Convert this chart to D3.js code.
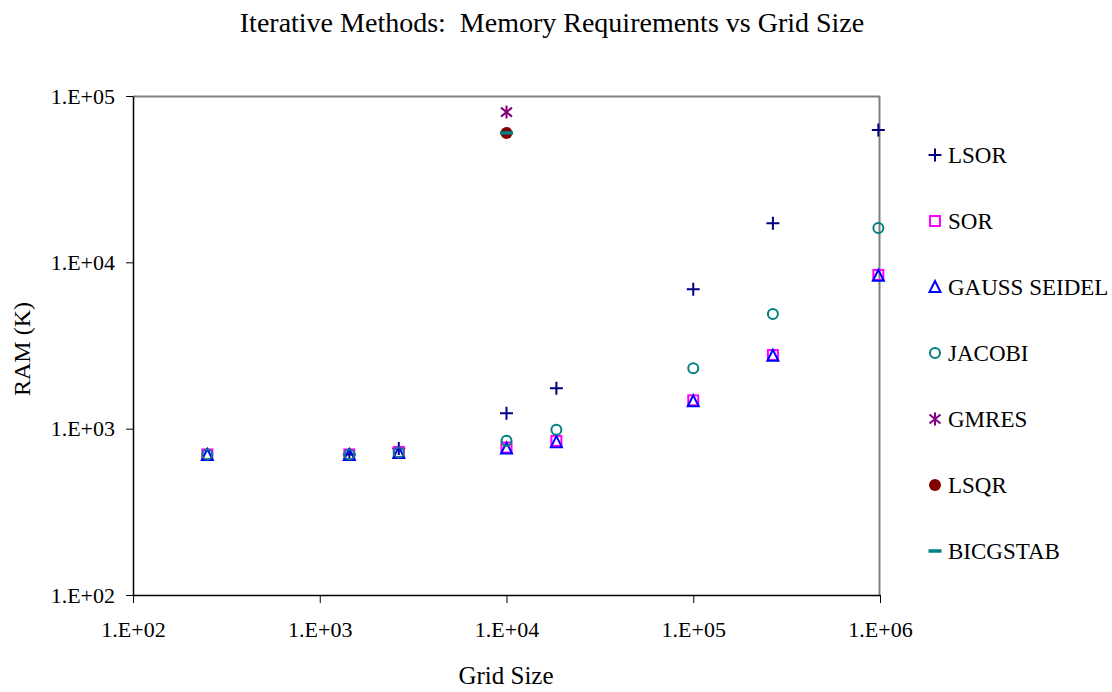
<!DOCTYPE html>
<html>
<head>
<meta charset="utf-8">
<script src="https://cdn.jsdelivr.net/npm/d3@7"></script>
<style>
body { margin: 0; background: #fff; }
svg text { font-family: "Liberation Serif", "Times New Roman", serif; fill: #000; }
</style>
</head>
<body>
<div id="chart"></div>
<script>
var WIDTH = 1112;
var HEIGHT = 692;
var FONT = '"Liberation Serif", "Times New Roman", serif';

// data
var gridSizes = [250, 1440, 2650, 10000, 18500, 100000, 267000, 980000];
var lsor     = [null, 700, 760, 1240, 1750, 6900, 17200, 62500];
var sor      = [700, 700, 725, 770, 845, 1480, 2770, 8400];
var gauss    = [695, 695, 715, 760, 830, 1460, 2740, 8300];
var jacobi   = [700, 700, 720, 845, 985, 2310, 4890, 16100];
var gmres    = [null, null, null, 80000, null, null, null, null];
var lsqr     = [null, null, null, 60000, null, null, null, null];
var bicgstab = [null, null, null, 60000, null, null, null, null];

var xTicks = [1e2, 1e3, 1e4, 1e5, 1e6];
var yTicks = [1e2, 1e3, 1e4, 1e5];

var series = [
	{name: "LSOR", values: lsor, colour: "#000080", shape: "plus"},
	{name: "SOR", values: sor, colour: "#ff00ff", shape: "square"},
	{name: "GAUSS SEIDEL", values: gauss, colour: "#0000ff", shape: "triangle"},
	{name: "JACOBI", values: jacobi, colour: "#008080", shape: "circle"},
	{name: "GMRES", values: gmres, colour: "#800080", shape: "star"},
	{name: "LSQR", values: lsqr, colour: "#800000", shape: "dot"},
	{name: "BICGSTAB", values: bicgstab, colour: "#008080", shape: "dash"}
];

var margin = {left: 133, top: 96, right: 1112 - 880, bottom: 692 - 595};
var w = WIDTH - margin.left - margin.right;
var h = HEIGHT - margin.top - margin.bottom;

var svg = d3.select('#chart').append('svg')
	.attr('width', WIDTH).attr('height', HEIGHT);

var x = d3.scaleLog().domain([1e2, 1e6]).range([0, w]);
var y = d3.scaleLog().domain([1e2, 1e5]).range([h, 0]);

var fmt = function(d) { return "1.E+" + String(Math.round(Math.log10(d))).padStart(2, "0"); };

// title and axis titles
svg.append('text').attr('x', 552).attr('y', 32).attr('text-anchor', 'middle')
	.style('font-family', FONT).style('font-size', '28px').style('white-space', 'pre')
	.text("Iterative Methods:  Memory Requirements vs Grid Size");
svg.append('text').attr('x', 506).attr('y', 684).attr('text-anchor', 'middle')
	.style('font-family', FONT).style('font-size', '25px').text("Grid Size");
svg.append('text').attr('transform', 'translate(30,' + 349 + ') rotate(-90)')
	.attr('text-anchor', 'middle').style('font-family', FONT).style('font-size', '24px').text("RAM (K)");

var plot = svg.append('g').attr('transform', 'translate(' + margin.left + ',' + margin.top + ')');

// frame: grey top and right edges
plot.append('line').attr('x1', 0).attr('x2', w).attr('y1', 0.5).attr('y2', 0.5)
	.attr('stroke', '#808080').attr('stroke-width', 2);
plot.append('line').attr('x1', w - 0.5).attr('x2', w - 0.5).attr('y1', 0).attr('y2', h)
	.attr('stroke', '#808080').attr('stroke-width', 2);

var xAxis = plot.append('g').attr('transform', 'translate(0,' + h + ')')
	.call(d3.axisBottom(x).tickValues(xTicks).tickFormat(fmt).tickSize(8).tickSizeOuter(0).tickPadding(18));
var yAxis = plot.append('g')
	.call(d3.axisLeft(y).tickValues(yTicks).tickFormat(fmt).tickSize(7).tickSizeOuter(0).tickPadding(11));
[xAxis, yAxis].forEach(function(a) {
	a.attr('font-family', FONT);
	a.selectAll('path').attr('stroke', '#000').attr('stroke-width', 1.5);
	a.selectAll('.tick line').attr('stroke', '#000').attr('stroke-width', 1);
	a.selectAll('text').style('font-family', FONT).style('font-size', '22px');
});

function drawMarker(g, shape, colour) {
	if(shape == 'plus') {
		g.append('path').attr('d', 'M-6.5,0H6.5M0,-6.5V6.5').attr('stroke', colour).attr('stroke-width', 2).attr('fill', 'none');
	} else if(shape == 'square') {
		g.append('rect').attr('x', -5).attr('y', -5).attr('width', 10).attr('height', 10)
			.attr('fill', 'none').attr('stroke', colour).attr('stroke-width', 2);
	} else if(shape == 'triangle') {
		g.append('path').attr('d', 'M0,-6L5.5,5H-5.5Z').attr('fill', 'none')
			.attr('stroke', colour).attr('stroke-width', 2);
	} else if(shape == 'circle') {
		g.append('circle').attr('r', 5).attr('fill', 'none').attr('stroke', colour).attr('stroke-width', 2);
	} else if(shape == 'star') {
		g.append('path').attr('d', 'M0,-6.5V6.5M-5.5,-4.5L5.5,4.5M-5.5,4.5L5.5,-4.5').attr('stroke', colour)
			.attr('stroke-width', 2).attr('fill', 'none');
	} else if(shape == 'dot') {
		g.append('circle').attr('r', 6).attr('fill', colour);
	} else if(shape == 'dash') {
		g.append('path').attr('d', 'M-6.5,0H6.5').attr('stroke', colour).attr('stroke-width', 3.5);
	}
}

series.forEach(function(s) {
	var pts = gridSizes.map(function(g, i) { return {x: g, y: s.values[i]}; })
		.filter(function(d) { return d.y != null; });
	plot.selectAll(null).data(pts).enter().append('g')
		.attr('transform', function(d) { return 'translate(' + x(d.x) + ',' + y(d.y) + ')'; })
		.each(function() { drawMarker(d3.select(this), s.shape, s.colour); });
});

// legend
var legend = svg.append('g').attr('transform', 'translate(935,155)');
series.forEach(function(s, i) {
	var item = legend.append('g').attr('transform', 'translate(0,' + (i * 66) + ')');
	drawMarker(item, s.shape, s.colour);
	item.append('text').attr('x', 13).attr('y', 8).style('font-family', FONT)
		.style('font-size', '23px').text(s.name);
});
</script>
</body>
</html>
